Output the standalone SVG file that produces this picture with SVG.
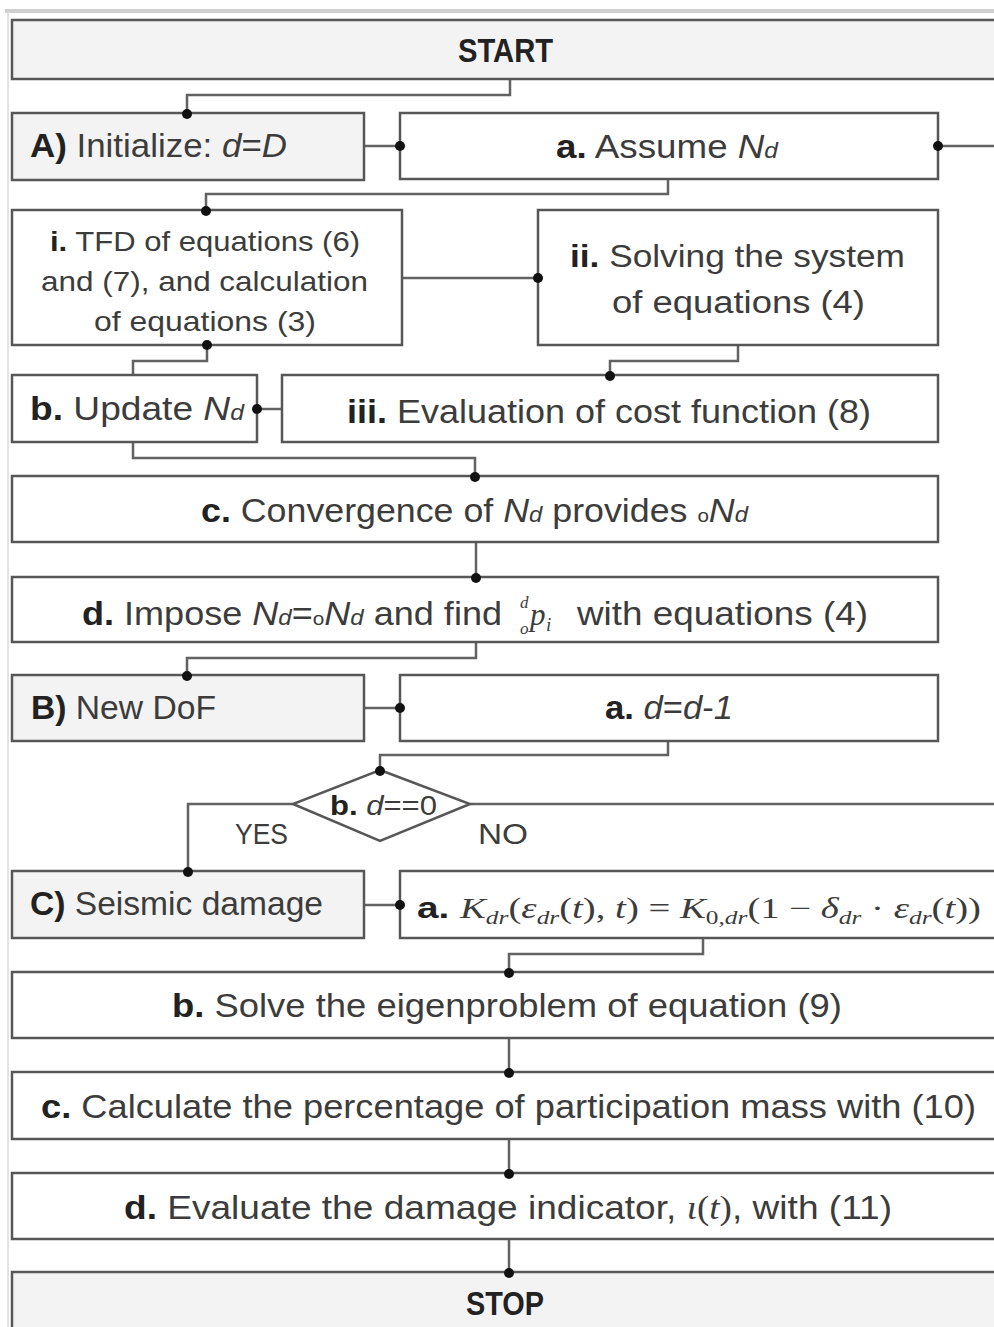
<svg xmlns="http://www.w3.org/2000/svg" width="994" height="1327" viewBox="0 0 994 1327">
<defs>
<style>
.box{fill:#ffffff;stroke:#575757;stroke-width:2.5}
.gbox{fill:#f3f3f3;stroke:#575757;stroke-width:2.5}
.con{fill:none;stroke:#626262;stroke-width:2.5}
.dot{fill:#111111}
text{font-family:"Liberation Sans Narrow","Liberation Sans",Arial,sans-serif;fill:#3c3c3c}
.t{font-size:33px}
.s{font-size:28px}
.b{font-weight:bold;fill:#222222}
.it{font-style:italic}
.sm{font-size:22px}
.o{font-size:19px}
.m{font-family:"Liberation Serif","Times New Roman",serif;font-style:italic}
.mr{font-family:"Liberation Serif","Times New Roman",serif;font-style:normal}
.sub{font-size:19px}
</style>
</defs>
<rect x="5" y="9" width="989" height="4" fill="#cfcfcf"/>
<line x1="8" y1="12" x2="8" y2="1327" stroke="#e2e2e2" stroke-width="2"/>

<g id="connectors">
<path class="con" d="M510 79 V95 H187 V113"/>
<path class="con" d="M364 146 H400"/>
<path class="con" d="M938 146 H994"/>
<path class="con" d="M668 179 V194 H206 V210"/>
<path class="con" d="M402 278 H538"/>
<path class="con" d="M738 345 V361 H610 V375"/>
<path class="con" d="M133 375 V361 H207 V345"/>
<path class="con" d="M282 409 H257" stroke="#9a9a9a"/>
<path class="con" d="M133 442 V458 H475 V476"/>
<path class="con" d="M476 542 V577"/>
<path class="con" d="M476 642 V658 H187 V675"/>
<path class="con" d="M364 708 H400"/>
<path class="con" d="M668 741 V755 H380 V770"/>
<path class="con" d="M293 804 H188 V871"/>
<path class="con" d="M470 804 H994"/>
<path class="con" d="M364 905 H400"/>
<path class="con" d="M703 938 V954 H509 V972"/>
<path class="con" d="M509 1038 V1072"/>
<path class="con" d="M509 1139 V1173"/>
<path class="con" d="M509 1239 V1272"/>
<text x="235" y="844" class="t" textLength="53" lengthAdjust="spacingAndGlyphs" style="font-size:30px">YES</text>
<text x="478" y="844" class="t" textLength="50" lengthAdjust="spacingAndGlyphs" style="font-size:30px">NO</text>
</g>

<g id="start">
<rect class="gbox" x="12" y="20" width="1000" height="59"/>
<text x="458" y="62" class="t b" textLength="95" lengthAdjust="spacingAndGlyphs">START</text>
</g>

<g id="A">
<rect class="gbox" x="12" y="113" width="352" height="67"/>
<text x="30" y="157" class="t" textLength="257" lengthAdjust="spacingAndGlyphs"><tspan class="b">A)</tspan> Initialize: <tspan class="it">d</tspan>=<tspan class="it">D</tspan></text>
</g>

<g id="Aa">
<rect class="box" x="400" y="113" width="538" height="66"/>
<text x="556" y="158" class="t" textLength="222" lengthAdjust="spacingAndGlyphs"><tspan class="b">a.</tspan>  Assume <tspan class="it">N</tspan><tspan class="it sm">d</tspan></text>
</g>

<g id="Ai">
<rect class="box" x="12" y="210" width="390" height="135"/>
<text x="50" y="251" class="s" textLength="310" lengthAdjust="spacingAndGlyphs"><tspan class="b">i.</tspan> TFD of equations (6)</text>
<text x="41" y="291" class="s" textLength="327" lengthAdjust="spacingAndGlyphs">and (7), and calculation</text>
<text x="94" y="331" class="s" textLength="222" lengthAdjust="spacingAndGlyphs">of equations (3)</text>
</g>

<g id="Aii">
<rect class="box" x="538" y="210" width="400" height="135"/>
<text x="570" y="267" class="t" style="font-size:31px" textLength="335" lengthAdjust="spacingAndGlyphs"><tspan class="b">ii.</tspan> Solving the system</text>
<text x="612" y="313" class="t" style="font-size:31px" textLength="253" lengthAdjust="spacingAndGlyphs">of equations (4)</text>
</g>

<g id="Ab">
<rect class="box" x="12" y="375" width="245" height="67"/>
<text x="30" y="420" class="t" textLength="214" lengthAdjust="spacingAndGlyphs"><tspan class="b">b.</tspan> Update <tspan class="it">N</tspan><tspan class="it sm">d</tspan></text>
</g>

<g id="Aiii">
<rect class="box" x="282" y="375" width="656" height="67"/>
<text x="347" y="423" class="t" textLength="524" lengthAdjust="spacingAndGlyphs"><tspan class="b">iii.</tspan> Evaluation of cost function (8)</text>
</g>

<g id="Ac">
<rect class="box" x="12" y="476" width="926" height="66"/>
<text x="201" y="522" class="t" textLength="547" lengthAdjust="spacingAndGlyphs"><tspan class="b">c.</tspan> Convergence  of <tspan class="it">N</tspan><tspan class="it sm">d</tspan> provides <tspan class="o">o</tspan><tspan class="it">N</tspan><tspan class="it sm">d</tspan></text>
</g>

<g id="Ad">
<rect class="box" x="12" y="577" width="926" height="65"/>
<text x="82" y="625" class="t" textLength="420" lengthAdjust="spacingAndGlyphs"><tspan class="b">d.</tspan> Impose <tspan class="it">N</tspan><tspan class="it sm">d</tspan>=<tspan class="o">o</tspan><tspan class="it">N</tspan><tspan class="it sm">d</tspan> and find</text>
<text x="520" y="608" class="m" style="font-size:17px">d</text>
<text x="520" y="634" class="m" style="font-size:17px">o</text>
<text x="530" y="625" class="m" style="font-size:31px">p</text>
<text x="546" y="631" class="m" style="font-size:19px">i</text>
<text x="577" y="625" class="t" textLength="291" lengthAdjust="spacingAndGlyphs">with equations (4)</text>
</g>

<g id="B">
<rect class="gbox" x="12" y="675" width="352" height="66"/>
<text x="31" y="719" class="t" textLength="185" lengthAdjust="spacingAndGlyphs"><tspan class="b">B)</tspan> New DoF</text>
</g>

<g id="Ba">
<rect class="box" x="400" y="675" width="538" height="66"/>
<text x="605" y="719" class="t" textLength="128" lengthAdjust="spacingAndGlyphs"><tspan class="b">a.</tspan> <tspan class="it">d</tspan>=<tspan class="it">d</tspan>-<tspan class="it">1</tspan></text>
</g>

<g id="Bb">
<polygon class="box" points="380,770 470,804 380,841 293,804"/>
<text x="330" y="815" class="s" textLength="107" lengthAdjust="spacingAndGlyphs"><tspan class="b">b.</tspan> <tspan class="it">d</tspan>==0</text>
</g>

<g id="C">
<rect class="gbox" x="12" y="871" width="352" height="67"/>
<text x="30" y="915" class="t" textLength="293" lengthAdjust="spacingAndGlyphs"><tspan class="b">C)</tspan> Seismic damage</text>
</g>

<g id="Ca">
<rect class="box" x="400" y="871" width="610" height="67"/>
<text x="417" y="918" style="font-size:29px" textLength="564" lengthAdjust="spacingAndGlyphs"><tspan class="b">a. </tspan><tspan class="m">K</tspan><tspan class="m sub" dy="6">dr</tspan><tspan class="mr" dy="-6">(</tspan><tspan class="m">ε</tspan><tspan class="m sub" dy="6">dr</tspan><tspan class="mr" dy="-6">(</tspan><tspan class="m">t</tspan><tspan class="mr">), </tspan><tspan class="m">t</tspan><tspan class="mr">) = </tspan><tspan class="m">K</tspan><tspan class="mr sub" dy="6">0,</tspan><tspan class="m sub">dr</tspan><tspan class="mr" dy="-6">(1 − </tspan><tspan class="m">δ</tspan><tspan class="m sub" dy="6">dr</tspan><tspan class="mr" dy="-6"> · </tspan><tspan class="m">ε</tspan><tspan class="m sub" dy="6">dr</tspan><tspan class="mr" dy="-6">(</tspan><tspan class="m">t</tspan><tspan class="mr">))</tspan></text>
</g>

<g id="Cb">
<rect class="box" x="12" y="972" width="1000" height="66"/>
<text x="172" y="1017" class="t" textLength="670" lengthAdjust="spacingAndGlyphs"><tspan class="b">b.</tspan> Solve the eigenproblem of equation (9)</text>
</g>

<g id="Cc">
<rect class="box" x="12" y="1072" width="1000" height="67"/>
<text x="41" y="1118" class="t" textLength="935" lengthAdjust="spacingAndGlyphs"><tspan class="b">c.</tspan> Calculate the percentage of participation mass with (10)</text>
</g>

<g id="Cd">
<rect class="box" x="12" y="1173" width="1000" height="66"/>
<text x="124" y="1219" class="t" textLength="768" lengthAdjust="spacingAndGlyphs"><tspan class="b">d.</tspan> Evaluate the damage indicator, <tspan class="m">ι</tspan><tspan class="mr">(</tspan><tspan class="m">t</tspan><tspan class="mr">)</tspan>, with (11)</text>
</g>

<g id="stop">
<rect class="gbox" x="12" y="1272" width="1000" height="70"/>
<text x="466" y="1315" class="t b" textLength="78" lengthAdjust="spacingAndGlyphs">STOP</text>
</g>

<g id="dots">
<circle class="dot" cx="187" cy="114" r="5"/>
<circle class="dot" cx="400" cy="146" r="5"/>
<circle class="dot" cx="938" cy="146" r="5"/>
<circle class="dot" cx="206" cy="211" r="5"/>
<circle class="dot" cx="538" cy="278" r="5"/>
<circle class="dot" cx="610" cy="376" r="5"/>
<circle class="dot" cx="207" cy="345" r="5"/>
<circle class="dot" cx="257" cy="409" r="5"/>
<circle class="dot" cx="475" cy="477" r="5"/>
<circle class="dot" cx="476" cy="578" r="5"/>
<circle class="dot" cx="187" cy="676" r="5"/>
<circle class="dot" cx="400" cy="708" r="5"/>
<circle class="dot" cx="380" cy="771" r="5"/>
<circle class="dot" cx="188" cy="872" r="5"/>
<circle class="dot" cx="400" cy="905" r="5"/>
<circle class="dot" cx="509" cy="973" r="5"/>
<circle class="dot" cx="509" cy="1073" r="5"/>
<circle class="dot" cx="509" cy="1174" r="5"/>
<circle class="dot" cx="509" cy="1273" r="5"/>
</g>
</svg>
